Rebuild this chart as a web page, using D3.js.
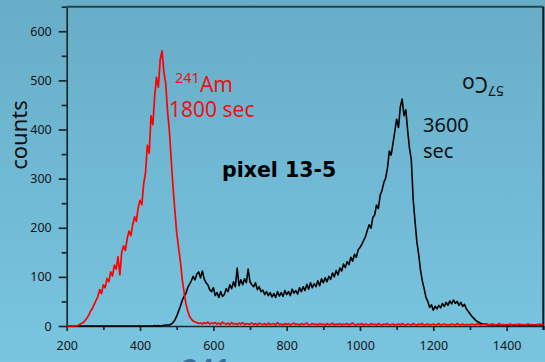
<!DOCTYPE html>
<html>
<head>
<meta charset="utf-8">
<script src="https://cdn.jsdelivr.net/npm/d3@7"></script>
<style>
    html, body { margin: 0; padding: 0; overflow: hidden; }
    #chart { width: 545px; height: 362px; }
</style>
</head>
<body>
<div id="chart"></div>
<script>
// channel numbers run 200..1500 in steps of 5
var chStart = 200, chEnd = 1500, chStep = 5;

// Am-241 spectrum, 1800 sec
var amCounts = [
    0,0,0,0,1,0,1,3,5,7,11,16,22,30,36,44,52,60,74,66,
    84,78,97,90,110,102,124,116,141,104,150,163,154,178,193,184,206,222,213,241,
    256,247,290,312,368,352,428,410,468,506,486,542,560,518,494,438,398,340,282,236,
    190,160,132,96,70,46,31,20,14,10,8,7,5,6,4,7,5,8,4,6,
    5,7,4,6,3,8,5,4,6,3,7,4,5,3,6,4,7,3,5,4,
    4,6,3,5,2,6,4,3,5,2,6,3,4,5,2,7,3,4,2,5,
    3,5,2,4,6,3,4,2,5,3,4,6,2,3,5,3,4,2,5,3,
    4,2,5,3,3,6,2,4,3,5,2,4,3,5,2,4,6,3,2,4,
    3,5,2,4,3,2,5,3,4,2,5,3,2,4,3,5,2,3,4,2,
    3,4,2,5,3,2,4,3,2,5,3,2,4,3,5,2,3,4,2,3,
    4,2,3,5,2,3,4,2,3,2,4,3,2,5,3,2,4,2,3,3,
    2,4,3,2,5,3,2,3,4,2,3,2,4,3,2,3,5,2,3,2,
    3,2,4,2,3,3,2,4,2,3,2,3,4,2,3,2,3,2,4,3,
    2
];

// Co-57 spectrum, 3600 sec
var coCounts = [
    0,0,0,0,0,0,0,0,0,0,0,0,0,0,0,0,0,0,0,0,
    0,0,0,0,0,0,0,0,0,0,0,0,0,0,0,0,0,0,0,0,
    0,0,0,0,0,0,0,0,1,0,1,0,1,1,2,2,2,4,7,12,
    20,30,40,52,60,66,78,85,92,101,94,106,110,98,112,96,88,84,74,70,
    78,62,68,58,70,60,64,76,70,84,76,90,80,118,82,94,84,96,88,116,
    90,84,80,88,74,80,70,73,64,70,62,68,59,66,58,70,61,68,60,72,
    64,70,62,75,67,72,65,78,70,80,72,85,75,88,78,86,80,92,82,96,
    88,98,90,101,95,108,100,113,104,118,112,126,119,131,125,140,132,146,140,155,
    160,166,174,182,195,206,199,221,226,246,239,266,276,292,301,322,356,348,372,396,
    421,404,446,462,428,440,398,362,338,258,214,172,146,114,92,76,58,50,38,43,
    32,40,35,42,37,46,40,48,42,51,45,53,46,50,42,48,40,44,35,30,
    25,20,16,12,9,7,5,4,3,4,2,3,2,3,2,1,3,2,1,2,
    2,1,3,2,1,2,3,1,2,1,2,3,1,2,1,2,1,3,2,1,
    2
];

var xMajor = [200, 400, 600, 800, 1000, 1200, 1400];
var xMinor = [300, 500, 700, 900, 1100, 1300, 1500];
var yMajor = [0, 100, 200, 300, 400, 500, 600];
var yMinor = [50, 150, 250, 350, 450, 550, 650];

var channels = d3.range(chStart, chEnd + chStep, chStep);

function toSeries(counts) {
    return channels.map(function(c, i) { return [c, counts[i]]; });
}

var W = 545, H = 362;
var svg = d3.select('#chart').append('svg')
    .attr('width', W)
    .attr('height', H);

// background gradient
var grad = svg.append('defs').append('linearGradient')
    .attr('id', 'bg')
    .attr('x1', 0).attr('y1', 0).attr('x2', 0).attr('y2', 1);
grad.append('stop').attr('offset', '0%').attr('stop-color', '#68adc8');
grad.append('stop').attr('offset', '100%').attr('stop-color', '#79c5e0');
svg.append('rect').attr('width', W).attr('height', H).attr('fill', 'url(#bg)');

var x = d3.scaleLinear().domain([200, 1500]).range([66.7, 543.3]);
var y = d3.scaleLinear().domain([0, 650]).range([326, 6.7]);

var axisColor = '#1a282d';
var labelFont = '"Noto Sans", sans-serif';

// axes
svg.append('g')
    .attr('transform', 'translate(' + x(200) + ',0)')
    .call(d3.axisLeft(y).tickValues(yMajor).tickSize(8).tickSizeOuter(0).tickPadding(7));
svg.append('g')
    .attr('transform', 'translate(' + x(200) + ',0)')
    .call(d3.axisLeft(y).tickValues(yMinor).tickSize(5).tickSizeOuter(0).tickFormat(''))
    .select('.domain').remove();

svg.append('g')
    .attr('transform', 'translate(0,' + y(0) + ')')
    .call(d3.axisBottom(x).tickValues(xMajor).tickSize(5).tickSizeOuter(0)
        .tickPadding(10).tickFormat(d3.format('d')));
svg.append('g')
    .attr('transform', 'translate(0,' + y(0) + ')')
    .call(d3.axisBottom(x).tickValues(xMinor).tickSize(4).tickSizeOuter(0).tickFormat(''))
    .select('.domain').remove();

svg.selectAll('.domain, .tick line')
    .attr('stroke', axisColor)
    .attr('stroke-width', 1.7);
svg.selectAll('.tick text')
    .style('font-family', labelFont)
    .style('font-size', '12.5px')
    .attr('fill', '#151515');

// frame on top and right
svg.append('line')
    .attr('x1', x(200)).attr('x2', x(1500))
    .attr('y1', y(650)).attr('y2', y(650))
    .attr('stroke', '#24444e').attr('stroke-width', 2);
svg.append('line')
    .attr('x1', x(1500)).attr('x2', x(1500))
    .attr('y1', y(650)).attr('y2', y(0) + 4)
    .attr('stroke', '#0e1a20').attr('stroke-width', 2);

// spectra
var line = d3.line()
    .x(function(d) { return x(d[0]); })
    .y(function(d) { return y(d[1]); });

svg.append('path')
    .datum(toSeries(coCounts))
    .attr('d', line)
    .attr('fill', 'none')
    .attr('stroke', '#000')
    .attr('stroke-width', 1.6)
    .attr('stroke-linejoin', 'round');

svg.append('path')
    .datum(toSeries(amCounts))
    .attr('d', line)
    .attr('fill', 'none')
    .attr('stroke', '#ff0000')
    .attr('stroke-width', 1.7)
    .attr('stroke-linejoin', 'round');

// y label
svg.append('text')
    .attr('transform', 'translate(27,135) rotate(-90)')
    .attr('text-anchor', 'middle')
    .style('font-family', labelFont)
    .style('font-size', '22px')
    .attr('fill', '#111')
    .text('counts');

// annotations
var red = '#ee1111';
var am = svg.append('text')
    .attr('x', 175).attr('y', 92)
    .style('font-family', labelFont)
    .attr('fill', red);
am.append('tspan').attr('dy', -9).style('font-size', '14.5px').text('241');
am.append('tspan').attr('dy', 9).style('font-size', '21px').text('Am');

svg.append('text')
    .attr('x', 169).attr('y', 117)
    .style('font-family', labelFont)
    .style('font-size', '21px')
    .attr('fill', red)
    .text('1800 sec');

svg.append('text')
    .attr('x', 222).attr('y', 177)
    .style('font-family', '"DejaVu Sans", sans-serif')
    .style('font-weight', 'bold')
    .style('font-size', '20.5px')
    .attr('fill', '#000')
    .text('pixel 13-5');

svg.append('text')
    .attr('x', 423).attr('y', 132)
    .style('font-family', labelFont)
    .style('font-size', '20px')
    .attr('fill', '#111')
    .text('3600');
svg.append('text')
    .attr('x', 423).attr('y', 158)
    .style('font-family', labelFont)
    .style('font-size', '20px')
    .attr('fill', '#111')
    .text('sec');

// the 57Co label is upside down in the original
var co = svg.append('text')
    .attr('transform', 'translate(504,77) rotate(180)')
    .style('font-family', labelFont)
    .attr('fill', '#111');
co.append('tspan').attr('dy', -9).style('font-size', '14px').text('57');
co.append('tspan').attr('dy', 9).style('font-size', '21px').text('Co');

// big label peeking in at the bottom edge, clipped as in the original
svg.append('text')
    .attr('x', 182).attr('y', 380)
    .style('font-family', labelFont)
    .style('font-weight', 'bold')
    .style('font-size', '28px')
    .attr('fill', '#3a6e9f')
    .text('241');
</script>
</body>
</html>
